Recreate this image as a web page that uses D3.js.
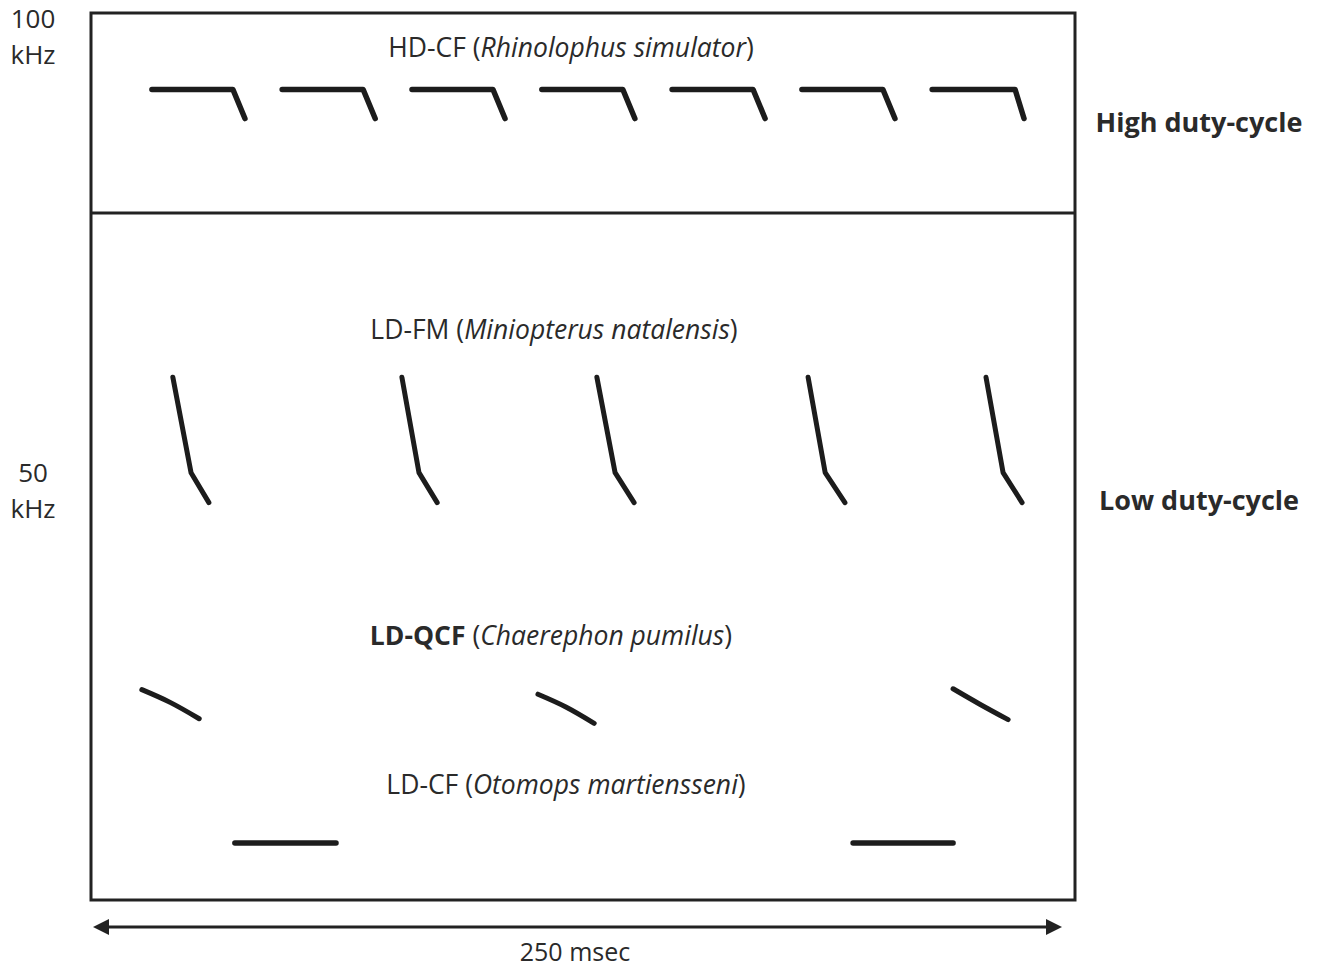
<!DOCTYPE html>
<html>
<head>
<meta charset="utf-8">
<script src="https://cdn.jsdelivr.net/npm/d3@7"></script>
<style>
  body { margin: 0; background: #fff; }
  svg text { font-family: "Open Sans", "Noto Sans", sans-serif; fill: #2a2a2a; }
</style>
</head>
<body>
<div id="chart"></div>
<script>
// call shapes, each call is a list of [time (msec), frequency (kHz)] points
const hdcfCalls = [
  [[15.2, 94.0], [36.1, 94.0], [39.2, 90.8]],
  [[48.8, 94.0], [69.7, 94.0], [72.8, 90.8]],
  [[82.3, 94.0], [103.2, 94.0], [106.3, 90.8]],
  [[115.8, 94.0], [136.7, 94.0], [139.8, 90.8]],
  [[149.4, 94.0], [170.3, 94.0], [173.4, 90.8]],
  [[182.9, 94.0], [203.8, 94.0], [206.9, 90.8]],
  [[216.5, 94.0], [237.9, 94.0], [240.2, 90.8]]
];
const fmCalls = [
  [[20.6, 62.3], [25.3, 51.8], [29.9, 48.5]],
  [[79.7, 62.3], [84.1, 51.8], [88.8, 48.5]],
  [[130.0, 62.3], [134.7, 51.8], [139.6, 48.5]],
  [[184.5, 62.3], [188.9, 51.8], [194.0, 48.5]],
  [[230.4, 62.3], [234.8, 51.8], [239.7, 48.5]]
];
const qcfCalls = [
  [[12.6, 27.9], [19.9, 26.5], [27.4, 24.7]],
  [[114.8, 27.4], [122.0, 26.0], [129.3, 24.2]],
  [[221.9, 28.0], [228.8, 26.3], [236.1, 24.6]]
];
const cfCalls = [
  [[36.6, 11.0], [62.7, 11.0]],
  [[196.1, 11.0], [221.9, 11.0]]
];

// panel titles
const titles = [
  {abbr: "HD-CF", species: "Rhinolophus simulator", bold: false},
  {abbr: "LD-FM", species: "Miniopterus natalensis", bold: false},
  {abbr: "LD-QCF", species: "Chaerephon pumilus", bold: true},
  {abbr: "LD-CF", species: "Otomops martiensseni", bold: false}
];
const freqTicks = [100, 50];
const dutyLabels = ["High duty-cycle", "Low duty-cycle"];
const durationLabel = "250 msec";
const duration = 250;

const width = 1320, height = 970;
const box = {left: 91, right: 1075, top: 13, bottom: 900, split: 213};

const svg = d3.select("#chart")
  .append("svg")
    .attr("width", width)
    .attr("height", height);

const x = d3.scaleLinear().domain([0, duration]).range([93, 1062]);
const y = d3.scaleLinear().domain([50, 100]).range([489, 35]);

// frame and divider
svg.append("rect")
  .attr("x", box.left).attr("y", box.top)
  .attr("width", box.right - box.left).attr("height", box.bottom - box.top)
  .attr("fill", "none").attr("stroke", "#222").attr("stroke-width", 3);
svg.append("line")
  .attr("x1", box.left).attr("x2", box.right)
  .attr("y1", box.split).attr("y2", box.split)
  .attr("stroke", "#222").attr("stroke-width", 3);

// calls
const line = d3.line()
  .x(d => x(d[0]))
  .y(d => y(d[1]));
const curvy = d3.line()
  .curve(d3.curveCatmullRom)
  .x(d => x(d[0]))
  .y(d => y(d[1]));

function drawCalls(data, gen, w) {
  svg.append("g").selectAll("path")
    .data(data)
    .join("path")
      .attr("d", gen)
      .attr("fill", "none")
      .attr("stroke", "#1c1c1c")
      .attr("stroke-width", w)
      .attr("stroke-linecap", "round")
      .attr("stroke-linejoin", "round");
}
drawCalls(hdcfCalls, line, 5.5);
drawCalls(fmCalls, line, 5);
drawCalls(qcfCalls, curvy, 5);
drawCalls(cfCalls, line, 5.5);

// titles
const titlePos = [[571, 57], [554, 339], [551, 645], [566, 794]];
titles.forEach((t, i) => {
  const txt = svg.append("text")
    .attr("x", titlePos[i][0]).attr("y", titlePos[i][1])
    .attr("text-anchor", "middle")
    .style("font-size", "26.5px");
  txt.append("tspan").text(t.abbr).style("font-weight", t.bold ? "bold" : "normal");
  txt.append("tspan").text(" (");
  txt.append("tspan").text(t.species).style("font-style", "italic");
  txt.append("tspan").text(")");
});

// frequency labels
freqTicks.forEach(f => {
  const g = svg.append("text")
    .attr("x", 33).attr("y", y(f) - 7)
    .attr("text-anchor", "middle")
    .style("font-size", "26px");
  g.append("tspan").attr("x", 33).text(f);
  g.append("tspan").attr("x", 33).attr("dy", 36).text("kHz");
});

// duty-cycle labels
const dutyY = [125, 503];
dutyLabels.forEach((d, i) => {
  svg.append("text")
    .attr("x", 1199).attr("y", dutyY[i])
    .attr("text-anchor", "middle")
    .attr("dominant-baseline", "middle")
    .style("font-size", "27px")
    .style("font-weight", "bold")
    .text(d);
});

// duration arrow
const arrowY = 927;
svg.append("line")
  .attr("x1", x(0) + 8).attr("x2", x(duration) - 8)
  .attr("y1", arrowY).attr("y2", arrowY)
  .attr("stroke", "#222").attr("stroke-width", 3);
const head = 16, half = 8;
svg.append("path")
  .attr("d", `M${x(0)},${arrowY} L${x(0) + head},${arrowY - half} L${x(0) + head},${arrowY + half} Z`)
  .attr("fill", "#222");
svg.append("path")
  .attr("d", `M${x(duration)},${arrowY} L${x(duration) - head},${arrowY - half} L${x(duration) - head},${arrowY + half} Z`)
  .attr("fill", "#222");
svg.append("text")
  .attr("x", 575).attr("y", 961)
  .attr("text-anchor", "middle")
  .style("font-size", "25px")
  .text(durationLabel);
</script>
</body>
</html>
